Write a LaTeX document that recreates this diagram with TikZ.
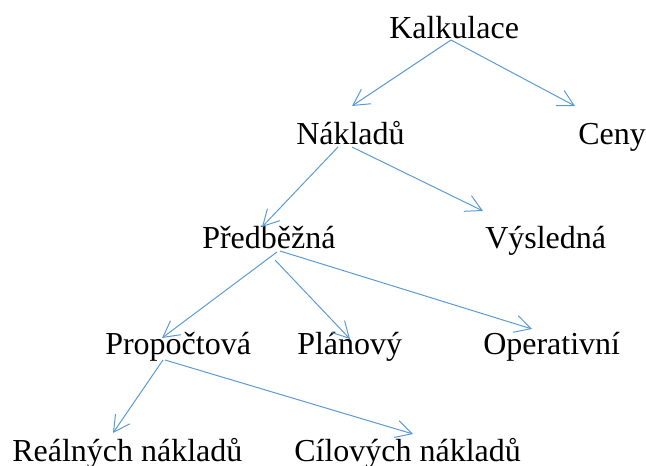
\documentclass[tikz,border=0pt]{standalone}
\usepackage{fontspec}
\setmainfont{Liberation Serif}
\usetikzlibrary{arrows.meta, calc}

\begin{document}
\begin{tikzpicture}[x=0.75pt, y=-0.75pt,
    >={Straight Barb[length=12pt, width=13pt]},
    lbl/.style={anchor=base west, inner sep=0pt, font=\fontsize{24}{28}\selectfont},
    arr/.style={->, draw={rgb,255:red,91;green,155;blue,213}, line width=0.75pt}]

    \useasboundingbox (0,0) rectangle (646,466);

    % -------------------------------------------------------------
    % labels, one row per level
    % -------------------------------------------------------------
    \node[lbl] (Kalk) at (389,39) {Kalkulace};

    \node[lbl] (Nakl) at (296,145) {Nákladů};
    \node[lbl] (Ceny) at (578,145) {Ceny};

    \node[lbl] (Predb) at (202,249) {Předběžná};
    \node[lbl] (Vysl) at (485,249) {Výsledná};

    \node[lbl] (Propo) at (105,355) {Propočtová};
    \node[lbl] (Plan) at (297,355) {Plánový};
    \node[lbl] (Oper) at (483,355) {Operativní};

    \node[lbl] (Real) at (12,461) {Reálných nákladů};
    \node[lbl] (Cil) at (294,461) {Cílových nákladů};

    % -------------------------------------------------------------
    % arrows
    % -------------------------------------------------------------
    \draw[arr] ($(Kalk.base west)+(62,1)$) -- ($(Nakl.base west)+(56,-39)$);
    \draw[arr] ($(Kalk.base west)+(62,1)$) -- ($(Ceny.base west)+(-3,-39)$);

    \draw[arr] ($(Nakl.base west)+(42,2)$) -- ($(Predb.base west)+(60,-22)$);
    \draw[arr] ($(Nakl.base west)+(56,2)$) -- ($(Vysl.base west)+(-2,-38)$);

    % three children of the preliminary one
    \draw[arr] ($(Predb.base west)+(75,3)$) -- ($(Propo.base west)+(57,-17)$);
    \draw[arr] ($(Predb.base west)+(73,11)$) -- ($(Plan.base west)+(53,-16)$);
    \draw[arr] ($(Predb.base west)+(78,2)$) -- ($(Oper.base west)+(49,-26)$);

    \draw[arr] ($(Propo.base west)+(58,5)$) -- ($(Real.base west)+(101,-28)$);
    \draw[arr] ($(Propo.base west)+(60,5)$) -- ($(Cil.base west)+(119,-27)$);

\end{tikzpicture}
\end{document}
